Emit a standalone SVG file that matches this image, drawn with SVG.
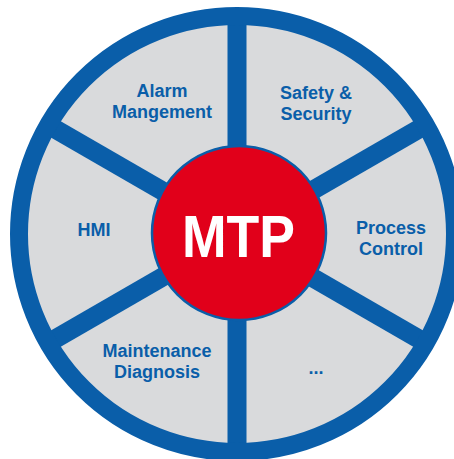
<svg xmlns="http://www.w3.org/2000/svg" width="454" height="459" viewBox="0 0 454 459">
  <style>
    .sector { fill: #d9dadc; }
    .spoke { stroke: #0a5ea9; stroke-width: 19; fill: none; }
    .ring { stroke: #0a5ea9; stroke-width: 18; fill: none; }
    .label { font-family: "Liberation Sans", Arial, sans-serif; font-weight: bold; font-size: 18px; fill: #0a5ea9; text-anchor: middle; }
    .core { fill: #e1001a; stroke: #0a5ea9; stroke-width: 2.5; }
    .coretext { font-family: "Liberation Sans", Arial, sans-serif; font-weight: bold; font-size: 60px; fill: #ffffff; text-anchor: middle; }
  </style>
  <rect x="0" y="0" width="454" height="459" fill="#ffffff"/>
  <g id="safety-security">
    <path class="sector" d="M237,234 L237,24 A210,210 0 0 1 418.87,129 Z"/>
    <text class="label" x="316" y="99">Safety &amp;</text>
    <text class="label" x="316" y="120">Security</text>
  </g>
  <g id="process-control">
    <path class="sector" d="M237,234 L418.87,129 A210,210 0 0 1 418.87,339 Z"/>
    <text class="label" x="391" y="234">Process</text>
    <text class="label" x="391" y="255">Control</text>
  </g>
  <g id="more">
    <path class="sector" d="M237,234 L418.87,339 A210,210 0 0 1 237,444 Z"/>
    <text class="label" x="316" y="374">...</text>
  </g>
  <g id="maintenance-diagnosis">
    <path class="sector" d="M237,234 L237,444 A210,210 0 0 1 55.13,339 Z"/>
    <text class="label" x="157" y="357">Maintenance</text>
    <text class="label" x="157" y="378">Diagnosis</text>
  </g>
  <g id="hmi">
    <path class="sector" d="M237,234 L55.13,339 A210,210 0 0 1 55.13,129 Z"/>
    <text class="label" x="94" y="236">HMI</text>
  </g>
  <g id="alarm-management">
    <path class="sector" d="M237,234 L55.13,129 A210,210 0 0 1 237,24 Z"/>
    <text class="label" x="162" y="97">Alarm</text>
    <text class="label" x="162" y="118">Mangement</text>
  </g>
  <g id="connectors">
    <line class="spoke" x1="237" y1="16" x2="237" y2="452"/>
    <line class="spoke" x1="48.2" y1="125" x2="425.8" y2="343"/>
    <line class="spoke" x1="48.2" y1="343" x2="425.8" y2="125"/>
  </g>
  <g id="outer-ring">
    <circle class="ring" cx="237" cy="234" r="218"/>
  </g>
  <g id="mtp">
    <circle class="core" cx="239" cy="233" r="87"/>
    <text class="coretext" x="238.5" y="257" textLength="113" lengthAdjust="spacingAndGlyphs">MTP</text>
  </g>
</svg>
